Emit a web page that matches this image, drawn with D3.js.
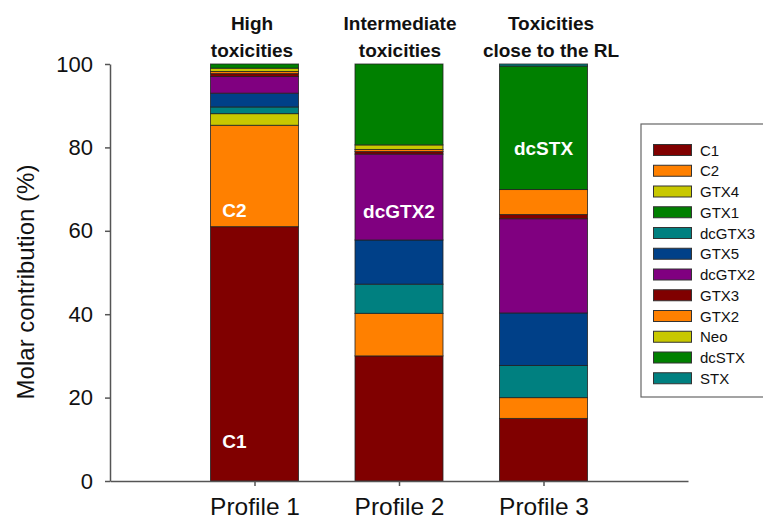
<!DOCTYPE html>
<html><head><meta charset="utf-8">
<script src="https://cdn.jsdelivr.net/npm/d3@7"></script>
<style>body{margin:0;background:#fff}svg{display:block;font-family:Arial,"Liberation Sans",sans-serif}</style>
</head><body><svg id="c" width="763" height="525"></svg>
<script>
const profiles = ["Profile 1","Profile 2","Profile 3"];
const toxins = ["C1","C2","GTX4","GTX1","dcGTX3","GTX5","dcGTX2","GTX3","GTX2","Neo","dcSTX","STX"];
const colors = ["#800000","#FF8000","#C8C800","#008000","#008080","#004088","#800080","#800000","#FF8000","#C8C800","#008000","#008080"];
const profile1 = [61.0,24.3,2.8,0,1.6,3.3,4.0,0.7,0.5,0.8,1.0,0];
const profile2 = [30.0,10.2,0,0,7.0,10.6,20.6,0.6,0.5,1.1,19.4,0];
const profile3 = [15.0,5.0,0,0,7.7,12.6,22.6,1.0,6.0,0,29.6,0.5];
const groupTitles = [["High","toxicities"],["Intermediate","toxicities"],["Toxicities","close to the RL"]];
const yTicks = [0,20,40,60,80,100];
const barLabels = [{p:0,t:"C1",v:8},{p:0,t:"C2",v:63.3},{p:1,t:"dcGTX2",v:63.0},{p:2,t:"dcSTX",v:78.2}];

const svg = d3.select("#c");
const x = d3.scaleLinear().domain([0,4]).range([110,688]);
const y = d3.scaleLinear().domain([0,100]).range([481,64]);
const barW = 88;
const data = [profile1,profile2,profile3];

// stacked bars
const rows = data.map(arr => { const o = {}; toxins.forEach((t,i)=>o[t]=arr[i]); return o; });
const stack = d3.stack().keys(toxins)(rows);
stack.forEach((layer,k) => {
  layer.forEach((d,i) => {
    if (d[1]-d[0] <= 0) return;
    svg.append("rect")
      .attr("x", x(i+1)-barW/2).attr("width", barW)
      .attr("y", y(d[1])).attr("height", y(d[0])-y(d[1]))
      .attr("fill", colors[k]).attr("stroke","#222").attr("stroke-width",1).attr("stroke-opacity",0.8);
  });
});

// axes
const yAxis = d3.axisLeft(y).tickValues(yTicks).tickSize(5).tickPadding(12).tickSizeOuter(0);
const gy = svg.append("g").attr("transform","translate(110,0)").call(yAxis);
gy.selectAll("text").attr("font-size",22).attr("fill","#111").attr("font-family","Arial, Liberation Sans, sans-serif");
gy.selectAll("line,path").attr("stroke","#555").attr("stroke-width",1.5);

const xAxis = d3.axisBottom(x).tickValues([1,2,3]).tickFormat((d)=>profiles[d-1]).tickSize(5).tickPadding(12).tickSizeOuter(0);
const gx = svg.append("g").attr("transform","translate(0,481)").call(xAxis);
gx.selectAll("text").attr("font-size",24.5).attr("fill","#111").attr("font-family","Arial, Liberation Sans, sans-serif");
gx.selectAll("line,path").attr("stroke","#555").attr("stroke-width",1.5);

svg.append("text").attr("transform","translate(34,282) rotate(-90)")
  .attr("text-anchor","middle").attr("font-size",24).attr("fill","#111").text("Molar contribution (%)");

// group titles
groupTitles.forEach((lines,i) => {
  const cx = [252,400,551][i];
  lines.forEach((s,j) => svg.append("text").attr("x",cx).attr("y",30+j*27)
    .attr("text-anchor","middle").attr("font-size",19).attr("font-weight","bold").attr("fill","#111").text(s));
});

// in-bar labels
barLabels.forEach(b => svg.append("text").attr("x", x(b.p+1)-(b.p===0?20:0)).attr("y", y(b.v))
  .attr("text-anchor","middle").attr("font-size",19).attr("font-weight","bold").attr("fill","#fff").text(b.t));

// legend
const lg = svg.append("g");
lg.append("rect").attr("x",641).attr("y",124).attr("width",130).attr("height",273)
  .attr("fill","#fff").attr("stroke","#666").attr("stroke-width",1.2);
toxins.forEach((t,i) => {
  const cy = 150 + i*20.75;
  lg.append("rect").attr("x",653.5).attr("y",cy-5.5).attr("width",38).attr("height",11)
    .attr("fill",colors[i]).attr("stroke","#333").attr("stroke-width",1);
  lg.append("text").attr("x",700).attr("y",cy+5.5).attr("font-size",15).attr("fill","#111").text(t);
});
</script></body></html>
